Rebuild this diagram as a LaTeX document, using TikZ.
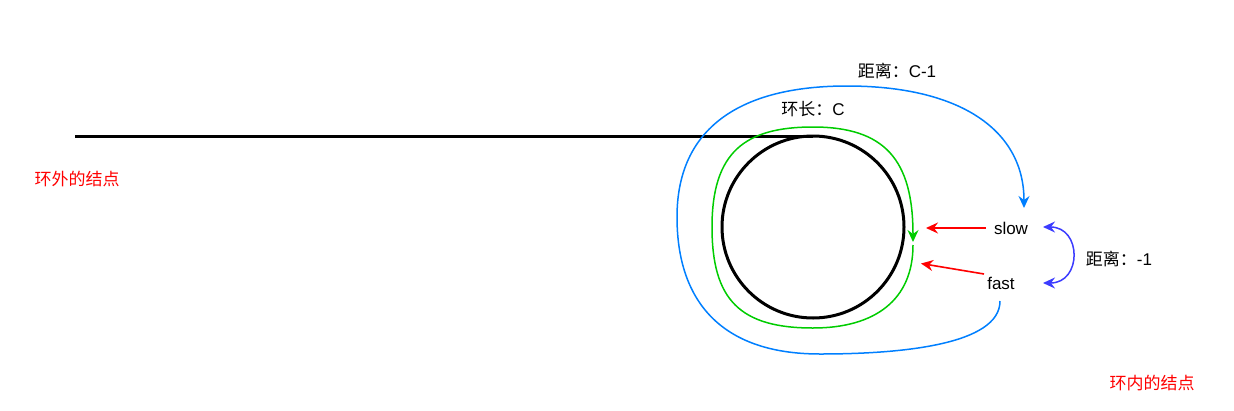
\documentclass[tikz,border=0pt]{standalone}
\usepackage{fontspec}
\setmainfont{Liberation Sans}
\newfontfamily\cjk{Noto Sans CJK SC}
\usetikzlibrary{arrows.meta}
\definecolor{cblue}{RGB}{0,127,255}
\definecolor{cgreen}{RGB}{0,204,0}
\definecolor{cred}{RGB}{255,0,0}
\definecolor{cpurple}{RGB}{60,60,255}
\begin{document}
\begin{tikzpicture}[x=1pt,y=-1pt,
  lbl/.style={font=\fontsize{17}{20}\selectfont, inner sep=0pt, anchor=center},
  tiphead/.style={Stealth[length=12pt,width=11pt,inset=4pt]},
  tip/.style={-{Stealth[length=12pt,width=11pt,inset=4pt]}},
  redarrow/.style={tip, cred, line width=1.6pt},
]
\useasboundingbox (0,0) rectangle (1234,410);
% loop
\coordinate (lstart) at (75,136);
\coordinate (ctop) at (813,136);
\node[circle, draw=black, line width=3pt, minimum size=182pt, inner sep=0pt] (ring) at (813,227) {};
\draw[line width=3pt] (lstart) -- (ctop);
% labels
\node[lbl] (dC) at (897,71) {{\cjk 距离：}C-1};
\node[lbl] (len) at (813,109) {{\cjk 环长：}C};
\node[lbl] (slow) at (1011,228) {slow};
\node[lbl] (fast) at (1001,283) {fast};
\node[lbl] (d1) at (1119,259) {{\cjk 距离：}-1};
\node[lbl, text=cred] (outer) at (77,179) {\cjk 环外的结点};
\node[lbl, text=cred] (inner) at (1152,383) {\cjk 环内的结点};
% coordinates
\coordinate (gs) at (913,245);
\coordinate (ge) at (913,242);
\coordinate (bs) at (1000,301);
\coordinate (be) at (1024,208);
\coordinate (rs1) at (986,228);
\coordinate (re1) at (926,228);
\coordinate (rs2) at (984,274);
\coordinate (re2) at (921,263.5);
\coordinate (ps) at (1043,227);
\coordinate (pe) at (1043,283);
% green loop
\draw[tip, cgreen, line width=1.5pt] (gs) .. controls (913,300) and (875,328) .. (813,328)
  .. controls (740,328) and (712,300) .. (712,227)
  .. controls (712,152) and (745,127) .. (813,127)
  .. controls (885,127) and (913,160) .. (ge);
% blue path
\draw[tip, cblue, line width=1.5pt] (bs) .. controls (1000,345) and (900,354) .. (820,354)
  .. controls (720,354) and (677,300) .. (677,217)
  .. controls (677,128) and (740,86) .. (847,86)
  .. controls (960,86) and (1024,130) .. (be);
% red arrows
\draw[redarrow] (rs1) -- (re1);
\draw[redarrow] (rs2) -- (re2);
% purple double arrow
\draw[{Stealth[length=12pt,width=11pt,inset=4pt]}-{Stealth[length=12pt,width=11pt,inset=4pt]}, cpurple, line width=1.5pt]
  (ps) .. controls (1082,227) and (1082,283) .. (pe);
\end{tikzpicture}
\end{document}
